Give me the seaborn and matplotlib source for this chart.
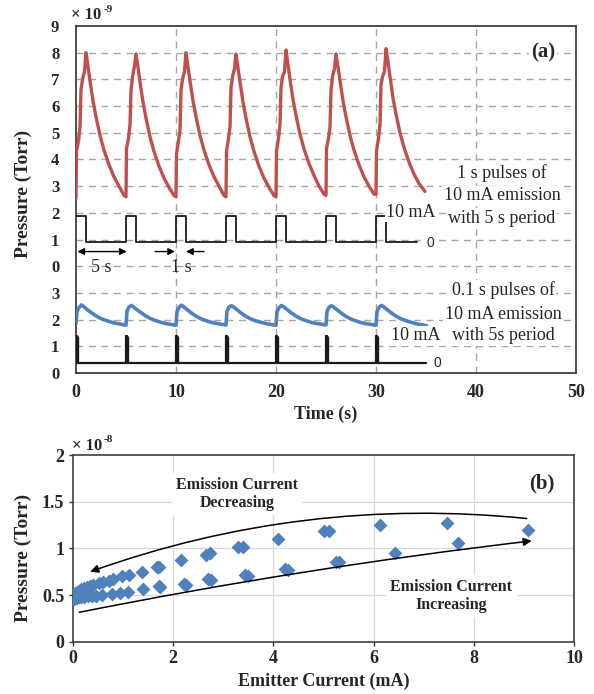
import numpy as np
import pandas as pd
import matplotlib
matplotlib.use("Agg")
import matplotlib.pyplot as plt
import seaborn as sns

# ---------------- data: panel (a) ----------------
# 1 s pulses: pressure (x 1e-9 Torr)
red_time = [
    0.0, 0.05, 0.25, 0.4, 0.5, 0.65, 0.85, 1.0, 1.15, 1.4, 1.7, 2.0, 2.4, 2.8, 3.3, 3.8, 4.3, 4.8,
    5.0, 5.05, 5.25, 5.4, 5.5, 5.65, 5.85, 6.0, 6.15, 6.4, 6.7, 7.0, 7.4, 7.8, 8.3, 8.8, 9.3, 9.8,
    10.0, 10.05, 10.25, 10.4, 10.5, 10.65, 10.85, 11.0, 11.15, 11.4, 11.7, 12.0, 12.4, 12.8, 13.3, 13.8, 14.3, 14.8,
    15.0, 15.05, 15.25, 15.4, 15.5, 15.65, 15.85, 16.0, 16.15, 16.4, 16.7, 17.0, 17.4, 17.8, 18.3, 18.8, 19.3, 19.8,
    20.0, 20.05, 20.25, 20.4, 20.5, 20.65, 20.85, 21.0, 21.15, 21.4, 21.7, 22.0, 22.4, 22.8, 23.3, 23.8, 24.3, 24.8,
    25.0, 25.05, 25.25, 25.4, 25.5, 25.65, 25.85, 26.0, 26.15, 26.4, 26.7, 27.0, 27.4, 27.8, 28.3, 28.8, 29.3, 29.8,
    30.0, 30.05, 30.25, 30.4, 30.5, 30.65, 30.85, 31.0, 31.15, 31.4, 31.7, 32.0, 32.4, 32.8, 33.3, 33.8, 34.3, 34.9,
]
red_pressure = [
    2.55, 4.3, 4.7, 5.2, 6.6, 7.0, 7.3, 8.0, 7.6, 6.95, 6.2, 5.6, 4.9, 4.35, 3.8, 3.35, 3.0, 2.65,
    2.6, 4.4, 4.8, 5.3, 6.6, 7.1, 7.5, 7.95, 7.6, 6.9, 6.15, 5.55, 4.85, 4.3, 3.75, 3.3, 2.95, 2.65,
    2.6, 4.2, 4.7, 5.1, 6.6, 7.0, 7.3, 8.0, 7.6, 6.95, 6.2, 5.6, 4.9, 4.35, 3.8, 3.35, 3.0, 2.65,
    2.6, 4.3, 4.8, 5.2, 6.7, 7.1, 7.4, 7.95, 7.55, 6.9, 6.15, 5.55, 4.85, 4.3, 3.75, 3.3, 2.95, 2.65,
    2.6, 4.3, 4.8, 5.3, 6.7, 7.1, 7.3, 8.1, 7.7, 7.0, 6.25, 5.65, 4.95, 4.4, 3.85, 3.4, 3.0, 2.7,
    2.65, 4.4, 4.8, 5.2, 6.6, 7.1, 7.4, 7.95, 7.6, 6.95, 6.2, 5.6, 4.9, 4.35, 3.8, 3.35, 3.0, 2.7,
    2.7, 4.3, 4.8, 5.3, 6.8, 7.1, 7.3, 8.15, 7.8, 7.1, 6.3, 5.7, 5.0, 4.45, 3.9, 3.45, 3.1, 2.8,
]
pulse_1s_time = [0.0, 1.0, 5.0, 6.0, 10.0, 11.0, 15.0, 16.0, 20.0, 21.0, 25.0, 26.0, 30.0, 31.0, 34.1]
pulse_1s_mA = [10, 0, 10, 0, 10, 0, 10, 0, 10, 0, 10, 0, 10, 0, 0]

# 0.1 s pulses: pressure (x 1e-9 Torr)
blue_time = [
    0.0, 0.1, 0.3, 0.55, 0.8, 1.1, 1.5, 2.0, 2.5, 3.0, 3.5, 4.0, 4.5, 4.95,
    5.0, 5.1, 5.3, 5.55, 5.8, 6.1, 6.5, 7.0, 7.5, 8.0, 8.5, 9.0, 9.5, 9.95,
    10.0, 10.1, 10.3, 10.55, 10.8, 11.1, 11.5, 12.0, 12.5, 13.0, 13.5, 14.0, 14.5, 14.95,
    15.0, 15.1, 15.3, 15.55, 15.8, 16.1, 16.5, 17.0, 17.5, 18.0, 18.5, 19.0, 19.5, 19.95,
    20.0, 20.1, 20.3, 20.55, 20.8, 21.1, 21.5, 22.0, 22.5, 23.0, 23.5, 24.0, 24.5, 24.95,
    25.0, 25.1, 25.3, 25.55, 25.8, 26.1, 26.5, 27.0, 27.5, 28.0, 28.5, 29.0, 29.5, 29.95,
    30.0, 30.1, 30.3, 30.55, 30.8, 31.1, 31.5, 32.0, 32.5, 33.0, 33.5, 34.0, 34.5, 35.05,
]
blue_pressure = [
    1.84, 2.3, 2.45, 2.55, 2.48, 2.38, 2.27, 2.14, 2.04, 1.97, 1.91, 1.86, 1.83, 1.79,
    1.79, 2.32, 2.47, 2.53, 2.46, 2.37, 2.26, 2.13, 2.03, 1.96, 1.9, 1.85, 1.82, 1.79,
    1.79, 2.3, 2.46, 2.54, 2.47, 2.38, 2.26, 2.13, 2.03, 1.96, 1.9, 1.86, 1.83, 1.8,
    1.8, 2.32, 2.47, 2.52, 2.46, 2.37, 2.25, 2.12, 2.02, 1.95, 1.9, 1.85, 1.82, 1.79,
    1.79, 2.3, 2.45, 2.53, 2.47, 2.38, 2.26, 2.13, 2.03, 1.96, 1.9, 1.86, 1.83, 1.8,
    1.8, 2.31, 2.46, 2.52, 2.46, 2.37, 2.25, 2.12, 2.02, 1.95, 1.89, 1.85, 1.82, 1.79,
    1.79, 2.3, 2.46, 2.53, 2.47, 2.38, 2.26, 2.13, 2.03, 1.96, 1.9, 1.85, 1.81, 1.77,
]
pulse_01s_time = [0.0, 0.1, 5.0, 5.1, 10.0, 10.1, 15.0, 15.1, 20.0, 20.1, 25.0, 25.1, 30.0, 30.1, 35.0]
pulse_01s_mA = [10, 0, 10, 0, 10, 0, 10, 0, 10, 0, 10, 0, 10, 0, 0]

a_ytick_labels = ["0", "1", "2", "3", "0", "1", "2", "3", "4", "5", "6", "7", "8", "9"]
a_xticks = [0, 10, 20, 30, 40, 50]

# ---------------- data: panel (b) ----------------
inc_current = [0.0, 0.02, 0.05, 0.08, 0.12, 0.17, 0.23, 0.3, 0.38, 0.47, 0.58, 0.78, 0.95,
               1.11, 1.41, 1.75, 1.73, 2.21, 2.25, 2.69, 2.76, 3.43, 3.49, 4.23, 4.29,
               5.25, 5.31, 6.43, 7.68, 9.08]
inc_pressure = [0.47, 0.46, 0.465, 0.47, 0.475, 0.478, 0.482, 0.486, 0.49, 0.493, 0.495, 0.51, 0.525,
                0.536, 0.56, 0.59, 0.60, 0.615, 0.61, 0.67, 0.66, 0.71, 0.705, 0.78, 0.77,
                0.857, 0.85, 0.954, 1.06, 1.20]
dec_current = [7.47, 6.13, 5.11, 5.0, 4.09, 3.39, 3.29, 2.73, 2.66, 2.15, 1.73, 1.68, 1.39,
               1.13, 0.98, 0.81, 0.72, 0.61, 0.52, 0.41, 0.34, 0.28, 0.22, 0.17, 0.12,
               0.08, 0.05, 0.02, 0.0]
dec_pressure = [1.275, 1.25, 1.186, 1.19, 1.10, 1.01, 1.015, 0.95, 0.93, 0.87, 0.80, 0.795, 0.75,
                0.715, 0.70, 0.67, 0.655, 0.64, 0.625, 0.61, 0.597, 0.585, 0.572, 0.56, 0.548,
                0.535, 0.52, 0.505, 0.49]
b_xticks = [0, 2, 4, 6, 8, 10]
b_yticks = [0, 0.5, 1, 1.5, 2]
b_ytick_labels = ["0", "0.5", "1", "1.5", "2"]

# ---------------- style ----------------
RED = "#C0504D"
BLUE = "#4F81BD"
GRID_A = "#a6a6a6"
GRID_B = "#d9d9d9"
SPINE = "#404040"

sns.set_theme(style="white")
plt.rcParams["font.family"] = ["Liberation Serif", "DejaVu Serif"]
plt.rcParams["axes.unicode_minus"] = False

fig = plt.figure(figsize=(5.94, 6.94), dpi=100)

# layout offsets for the stacked display in panel (a)
RED_BASE = 4.0
PULSE1_BASE = 4.89
PULSE2_BASE = 0.38
MA_SCALE = 0.1

# ================= panel (a) =================
ax1 = fig.add_axes([76 / 594, 1 - 373 / 694, 500 / 594, 347 / 694])
ax1.set_xlim(0, 50)
ax1.set_ylim(0, 13)
ax1.set_axisbelow(True)

for yv in range(1, 13):
    ax1.axhline(yv, color=GRID_A, lw=1.0, ls=(0, (5, 4)), zorder=0)
for xv in [10, 20, 30, 40]:
    ax1.axvline(xv, color=GRID_A, lw=1.0, ls=(0, (5, 4)), zorder=0)

sns.lineplot(x=red_time, y=np.array(red_pressure) + RED_BASE, ax=ax1, color=RED,
             lw=2.4, estimator=None, sort=False, zorder=3)
sns.lineplot(x=pulse_1s_time, y=np.array(pulse_1s_mA) * MA_SCALE + PULSE1_BASE, ax=ax1,
             color="#1a1a1a", lw=1.3, estimator=None, sort=False, drawstyle="steps-post", zorder=3)
sns.lineplot(x=blue_time, y=blue_pressure, ax=ax1, color=BLUE,
             lw=2.6, estimator=None, sort=False, zorder=3)
sns.lineplot(x=pulse_01s_time, y=np.array(pulse_01s_mA) * MA_SCALE + PULSE2_BASE, ax=ax1,
             color="#1a1a1a", lw=1.6, estimator=None, sort=False, drawstyle="steps-post", zorder=3)
# thicken the short spikes
for t0 in pulse_01s_time[0:-1:2]:
    ax1.plot([t0 + 0.05, t0 + 0.05], [PULSE2_BASE, PULSE2_BASE + 10 * MA_SCALE],
             color="#1a1a1a", lw=2.4, zorder=3, solid_capstyle="butt")

ax1.set_xticks(a_xticks)
ax1.set_xticklabels([str(v) for v in a_xticks])
ax1.set_yticks(range(14))
ax1.set_yticklabels(a_ytick_labels)
ax1.tick_params(axis="x", length=0, pad=8, labelsize=13)
ax1.tick_params(axis="y", length=0, pad=12, labelsize=12)
for lab in ax1.get_xticklabels() + ax1.get_yticklabels():
    lab.set_fontweight("bold")
for sp in ax1.spines.values():
    sp.set_visible(True)
    sp.set_color(SPINE)
    sp.set_linewidth(1.3)
ax1.set_xlabel("Time (s)", fontsize=13, fontweight="bold")
ax1.xaxis.set_label_coords(0.5, (373 - 414) / 347)
ax1.xaxis.label.set_va("center")
ax1.set_ylabel("Pressure (Torr)", fontsize=14, fontweight="bold")
ax1.yaxis.set_label_coords((23 - 76) / 500, (373 - 194) / 347)
ax1.yaxis.label.set_va("center")

fig.text(71 / 594, 1 - 15 / 694, "\u00d7 10", fontsize=12, fontweight="bold", va="center", ha="left")
fig.text(103.5 / 594, 1 - 10 / 694, "-9", fontsize=8, fontweight="bold", va="center", ha="left")

wb = dict(fc="white", ec="none", pad=1.0)
ax1.text(46.7, 12.0, "(a)", fontsize=15, fontweight="bold", ha="center", va="center", bbox=wb)
for txt, yv in [("1 s pulses of", 7.49), ("10 mA emission", 6.64), ("with 5 s period", 5.8)]:
    ax1.text(42.6, yv, txt, fontsize=13, ha="center", va="center", bbox=wb, zorder=4)
for txt, yv in [("0.1 s pulses of", 3.11), ("10 mA emission", 2.2), ("with 5s period", 1.4)]:
    ax1.text(42.7, yv, txt, fontsize=13, ha="center", va="center", bbox=wb, zorder=4)
ax1.text(33.5, 6.02, "10 mA", fontsize=13, ha="center", va="center", bbox=wb, zorder=4)
ax1.text(34.0, 1.39, "10 mA", fontsize=13, ha="center", va="center", bbox=wb, zorder=4)
ax1.text(35.4, 4.87, "0", fontsize=10, family=["Liberation Sans", "DejaVu Sans"],
         ha="center", va="center", bbox=wb, zorder=4)
ax1.text(36.1, 0.37, "0", fontsize=10, family=["Liberation Sans", "DejaVu Sans"],
         ha="center", va="center", bbox=wb, zorder=4)

ax1.annotate("", xy=(0.13, 4.55), xytext=(5.07, 4.55),
             arrowprops=dict(arrowstyle="<|-|>", color="black", lw=1.0, shrinkA=0, shrinkB=0,
                             mutation_scale=10))
ax1.annotate("", xy=(9.9, 4.55), xytext=(7.9, 4.55),
             arrowprops=dict(arrowstyle="-|>", color="black", lw=1.0, shrinkA=0, shrinkB=0,
                             mutation_scale=10))
ax1.annotate("", xy=(11.0, 4.55), xytext=(12.8, 4.55),
             arrowprops=dict(arrowstyle="-|>", color="black", lw=1.0, shrinkA=0, shrinkB=0,
                             mutation_scale=10))
ax1.text(2.57, 3.96, "5 s", fontsize=13, ha="center", va="center")
ax1.text(10.57, 3.96, "1 s", fontsize=13, ha="center", va="center")

# ================= panel (b) =================
ax2 = fig.add_axes([72.7 / 594, 1 - 641.7 / 694, 501.6 / 594, 186.7 / 694])
ax2.set_xlim(0, 10)
ax2.set_ylim(0, 2)
ax2.set_axisbelow(True)
for yv in [0.5, 1.0, 1.5]:
    ax2.axhline(yv, color=GRID_B, lw=0.9, zorder=0)
for xv in [2, 4, 6, 8]:
    ax2.axvline(xv, color=GRID_B, lw=0.9, zorder=0)

df_b = pd.DataFrame({
    "current": inc_current + dec_current,
    "pressure": inc_pressure + dec_pressure,
    "branch": ["increasing"] * len(inc_current) + ["decreasing"] * len(dec_current),
})
sns.scatterplot(data=df_b, x="current", y="pressure", ax=ax2, color=BLUE, marker="D",
                s=50, linewidth=0, legend=False, zorder=3)

ax2.set_xticks(b_xticks)
ax2.set_xticklabels([str(v) for v in b_xticks])
ax2.set_yticks(b_yticks)
ax2.set_yticklabels(b_ytick_labels)
ax2.tick_params(axis="both", direction="out", length=3, width=1, color="#333333",
                labelsize=13, pad=3, bottom=True, left=True)
for lab in ax2.get_xticklabels() + ax2.get_yticklabels():
    lab.set_fontweight("bold")
for sp in ax2.spines.values():
    sp.set_visible(True)
    sp.set_color(SPINE)
    sp.set_linewidth(1.2)
ax2.set_xlabel("Emitter Current (mA)", fontsize=13, fontweight="bold")
ax2.xaxis.set_label_coords(0.5, (641.7 - 681) / 186.7)
ax2.xaxis.label.set_va("center")
ax2.set_ylabel("Pressure (Torr)", fontsize=14, fontweight="bold")
ax2.yaxis.set_label_coords((23 - 72.7) / 501.6, (641.7 - 558) / 186.7)
ax2.yaxis.label.set_va("center")

fig.text(71.5 / 594, 1 - 446 / 694, "\u00d7 10", fontsize=12, fontweight="bold", va="center", ha="left")
fig.text(104 / 594, 1 - 440 / 694, "-8", fontsize=8, fontweight="bold", va="center", ha="left")

ax2.text(9.35, 1.7, "(b)", fontsize=15, fontweight="bold", ha="center", va="center", bbox=wb)
ax2.text(3.27, 1.58, "Emission Current\nDecreasing", fontsize=11.5, fontweight="bold",
         ha="center", va="center", linespacing=1.15, bbox=dict(fc="white", ec="none", pad=3))
ax2.text(7.55, 0.49, "Emission Current\nIncreasing", fontsize=11.5, fontweight="bold",
         ha="center", va="center", linespacing=1.15, bbox=dict(fc="white", ec="none", pad=3))

ax2.annotate("", xy=(0.35, 0.75), xytext=(9.05, 1.32),
             arrowprops=dict(arrowstyle="-|>", color="black", lw=1.1, shrinkA=0, shrinkB=0,
                             mutation_scale=12, connectionstyle="arc3,rad=0.113"))
ax2.annotate("", xy=(9.15, 1.08), xytext=(0.13, 0.315),
             arrowprops=dict(arrowstyle="-|>", color="black", lw=1.1, shrinkA=0, shrinkB=0,
                             mutation_scale=12, connectionstyle="arc3,rad=-0.02"))

fig.savefig("out.png", dpi=100)
